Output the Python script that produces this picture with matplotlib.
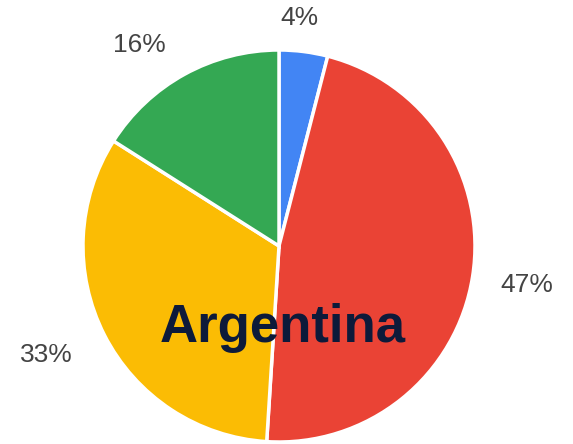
import matplotlib
matplotlib.use("Agg")
import matplotlib.pyplot as plt
import numpy as np

categories = ["A", "B", "C", "D"]
values = [4, 47, 33, 16]
labels = ["4%", "47%", "33%", "16%"]
colors = ["#4285F4", "#EA4335", "#FBBC04", "#34A853"]
title = "Argentina"

W, H = 573, 444
fig = plt.figure(figsize=(W / 100, H / 100), dpi=100)
cx, cy, r = 279, 246, 196
ax = fig.add_axes([(cx - r) / W, (H - cy - r) / H, 2 * r / W, 2 * r / H])
wedges, texts = ax.pie(values, labels=labels, colors=colors, startangle=90,
                       counterclock=False, labeldistance=1.25,
                       wedgeprops=dict(edgecolor="white", linewidth=2.5),
                       textprops=dict(fontsize=19, color="#444444", family="Liberation Sans"))
dists = [1.17, 1.28, 1.31, 1.25]
shifts = [2, 0, -2, 6]
for w, t, d, s in zip(wedges, texts, dists, shifts):
    a = np.deg2rad((w.theta1 + w.theta2) / 2 + s)
    t.set_position((d * np.cos(a), d * np.sin(a)))
    t.set_ha("center")
    t.set_va("center")
ax.set_xlim(-1, 1)
ax.set_ylim(-1, 1)
ax.set_aspect("equal")
ax.axis("off")
fig.text(283 / W, 1 - 328 / H, title, ha="center", va="center", fontsize=38,
         fontweight="bold", color="#0d1a3a", family="Liberation Sans")
fig.savefig("out.png", dpi=100)
